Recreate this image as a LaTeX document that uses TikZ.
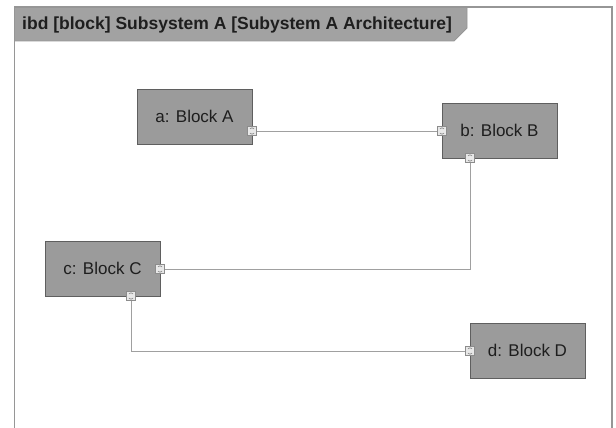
\documentclass[tikz,border=0pt]{standalone}
\usepackage{fontspec}
\setmainfont{Liberation Sans}
\definecolor{blockfill}{RGB}{155,155,155}
\definecolor{blockedge}{RGB}{95,95,95}
\definecolor{tabfill}{RGB}{162,162,162}
\definecolor{framegray}{RGB}{150,150,150}
\definecolor{wiregray}{RGB}{160,160,160}
\definecolor{portfill}{RGB}{232,232,232}
\definecolor{portedge}{RGB}{140,140,140}
\definecolor{textdark}{RGB}{30,30,30}
\begin{document}
\begin{tikzpicture}[x=1pt,y=-1pt,
  blockbox/.style={draw=blockedge, fill=blockfill, line width=0.8pt,
    minimum width=115pt, minimum height=55pt, inner sep=0pt,
    font=\fontsize{17}{20}\selectfont, text=textdark},
  portbox/.style={draw=portedge, fill=portfill, line width=0.7pt,
    minimum size=9pt, inner sep=0pt,
    path picture={
      \draw[portedge, line width=0.6pt]
        ([xshift=-2pt,yshift=2.2pt]path picture bounding box.center) --
        ([xshift=0pt,yshift=3.2pt]path picture bounding box.center) --
        ([xshift=2pt,yshift=2.2pt]path picture bounding box.center)
        ([xshift=-2pt,yshift=-2.2pt]path picture bounding box.center) --
        ([xshift=0pt,yshift=-3.2pt]path picture bounding box.center) --
        ([xshift=2pt,yshift=-2.2pt]path picture bounding box.center);
    }},
  wire/.style={draw=wiregray, line width=1pt},
  titletext/.style={font=\fontsize{17.5}{20}\selectfont\bfseries, text=textdark, inner sep=0pt}]
\useasboundingbox (0,0) rectangle (616,428);
\fill[white] (0,0) rectangle (616,428);

% diagram frame and its name tab
\fill[tabfill] (15,7) -- (467,7) -- (467,28) -- (454,41) -- (15,41) -- cycle;
\draw[framegray, line width=0.8pt] (15,41) -- (454,41) -- (467,28) -- (467,7);
\draw[framegray, line width=1.5pt] (14.5,428) -- (14.5,7) -- (612,7) -- (612,428);
\node[titletext, anchor=west] (title) at (22,24.5) {ibd [block] Subsystem A [Subystem A Architecture]};

% part blocks
\node[blockbox] (a) at (194.5,116.5) {a: Block A};
\node[blockbox] (b) at (499.5,130.5) {b: Block B};
\node[blockbox] (c) at (102.5,268.5) {c: Block C};
\node[blockbox] (d) at (527.5,350.5) {d: Block D};

% ports on the block edges
\node[portbox] (pa)  at (252,131) {};
\node[portbox] (pb1) at (442,131) {};
\node[portbox] (pb2) at (470,158) {};
\node[portbox] (pc1) at (160,269) {};
\node[portbox] (pc2) at (131,296) {};
\node[portbox] (pd)  at (470,351) {};

% connectors
\draw[wire] (pa) -- (pb1);
\draw[wire] (pb2) |- (pc1);
\draw[wire] (pc2) |- (pd);
\end{tikzpicture}
\end{document}
